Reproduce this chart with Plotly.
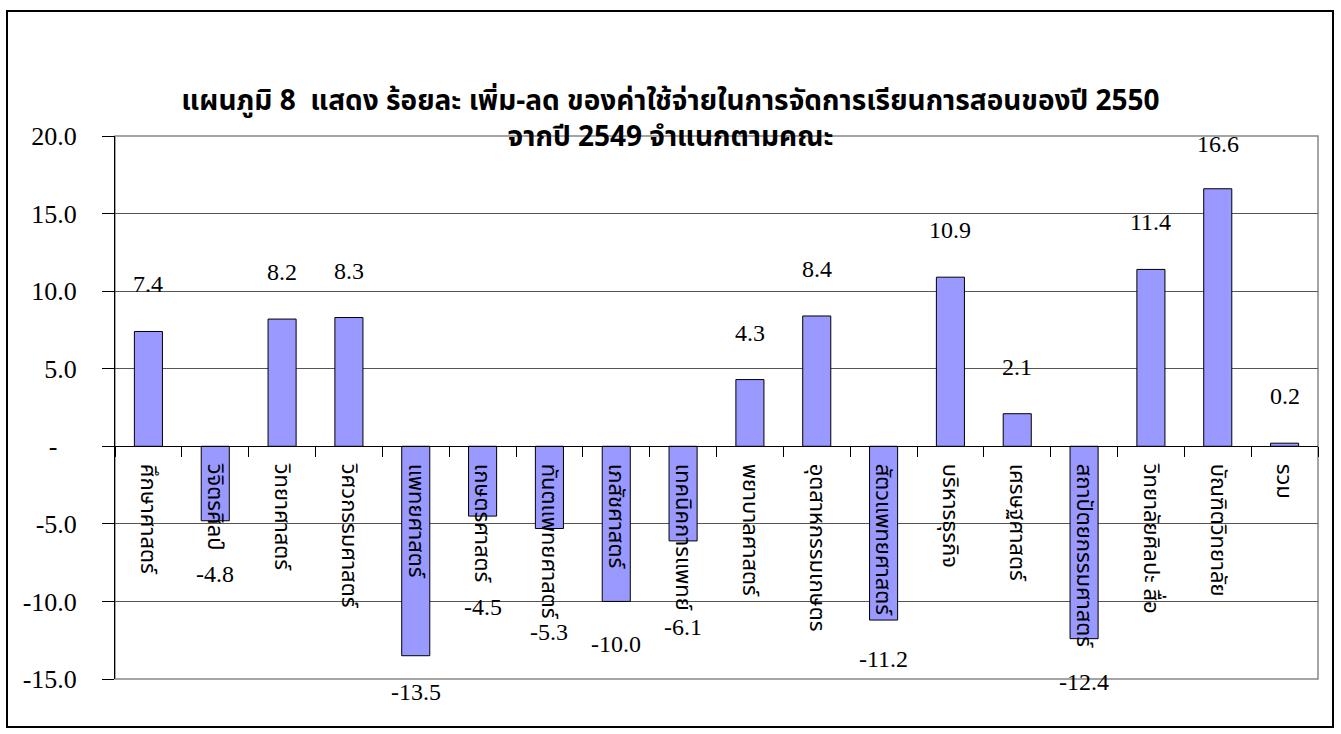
import plotly.graph_objects as go

# ---- data ----
categories = [
    "ศึกษาศาสตร์", "วิจิตรศิลป์", "วิทยาศาสตร์", "วิศวกรรมศาสตร์", "แพทยศาสตร์",
    "เกษตรศาสตร์", "ทันตแพทยศาสตร์", "เภสัชศาสตร์", "เทคนิคการแพทย์", "พยาบาลศาสตร์",
    "อุตสาหกรรมเกษตร", "สัตวแพทยศาสตร์", "บริหารธุรกิจ", "เศรษฐศาสตร์",
    "สถาปัตยกรรมศาสตร์", "วิทยาลัยศิลปะ สื่อ", "บัณฑิตวิทยาลัย", "รวม",
]
values = [7.4, -4.8, 8.2, 8.3, -13.5, -4.5, -5.3, -10.0, -6.1, 4.3,
          8.4, -11.2, 10.9, 2.1, -12.4, 11.4, 16.6, 0.2]
y_ticks = [-15, -10, -5, 0, 5, 10, 15, 20]
y_tick_text = ["-15.0", "-10.0", "-5.0", "-\u00a0\u00a0\u00a0", "5.0", "10.0", "15.0", "20.0"]
title_lines = ["แผนภูมิ 8  แสดง ร้อยละ เพิ่ม-ลด ของค่าใช้จ่ายในการจัดการเรียนการสอนของปี 2550",
               "จากปี 2549 จำแนกตามคณะ"]

# ---- styling (label offsets in pixels, not data) ----
label_shift_px = [47, -53, 47, 47, -36, -91, -103, -43, -86, 47,
                  47, -39, 47, 47, -43, 47, 45, 47]

W, H = 1341, 734
PL, PR, PT, PB = 115, 1318, 136, 679
y_range = [-15, 20]
zero_pos = (0 - y_range[0]) / (y_range[1] - y_range[0])

thai_font = "Noto Sans Thai, Loma, Garuda, Norasi, Tlwg Typo, Tahoma, DejaVu Sans, sans-serif"
num_font = "Liberation Serif, Times New Roman, serif"

fig = go.Figure()
fig.add_trace(go.Bar(
    x=categories, y=values,
    marker=dict(color="#9999FF", line=dict(color="#000000", width=1)),
    hoverinfo="x+y",
))

for c, v, s in zip(categories, values, label_shift_px):
    fig.add_annotation(x=c, y=v, text=f"{v:.1f}", showarrow=False,
                       yshift=s, yanchor="middle",
                       font=dict(family=num_font, size=24, color="#000"))

pw, ph = PR - PL, PB - PT
def px_x(px):
    return (px - PL) / pw
def px_y(py):
    return (PB - py) / ph

# plot-area border (gray) and outer chart border (black)
fig.add_shape(type="rect", xref="paper", yref="paper", x0=0, x1=1, y0=0, y1=1,
              line=dict(color="#888888", width=1.5), layer="below")
fig.add_shape(type="rect", xref="paper", yref="paper",
              x0=px_x(7), x1=px_x(1333), y0=px_y(727), y1=px_y(11),
              line=dict(color="#000000", width=2))

fig.update_layout(
    width=W, height=H,
    margin=dict(l=PL, r=W - PR, t=PT, b=H - PB),
    paper_bgcolor="white", plot_bgcolor="white",
    bargap=0.58,
    showlegend=False,
    title=dict(text="<b>" + title_lines[0] + "<br>" + title_lines[1] + "</b>",
               x=0.5, xanchor="center", xref="container",
               y=1 - 110 / H, yanchor="top", yref="container",
               font=dict(family=thai_font, size=28, color="#000")),
    xaxis=dict(
        anchor="free", position=zero_pos,
        showline=True, linecolor="#000", linewidth=1,
        ticks="outside", ticklen=10, tickcolor="#000", tickson="boundaries",
        tickangle=90, showgrid=False, ticklabelstandoff=12,
        tickfont=dict(family=thai_font, size=22, color="#000"),
    ),
    yaxis=dict(
        range=y_range, tickvals=y_ticks, ticktext=y_tick_text,
        showline=True, linecolor="#000", linewidth=1,
        ticks="outside", ticklen=12, tickcolor="#000",
        showgrid=True, gridcolor="#555555", gridwidth=1,
        zeroline=False,
        ticklabelstandoff=20,
        tickfont=dict(family=num_font, size=26, color="#000"),
    ),
)

fig.write_html("out.html", config={"displayModeBar": False},
               post_script="document.body.style.margin='0';")
